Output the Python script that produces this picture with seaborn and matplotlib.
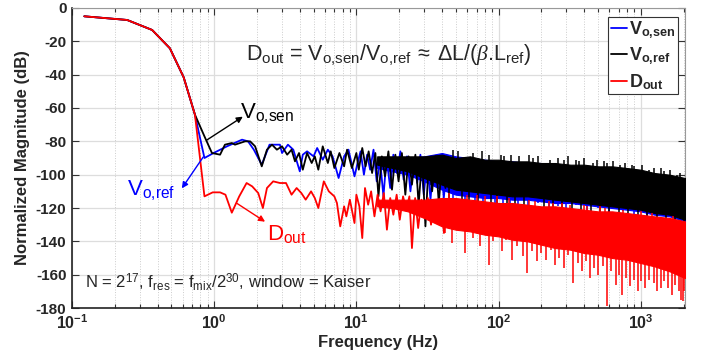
import numpy as np
import pandas as pd
import seaborn as sns
import matplotlib.pyplot as plt
from matplotlib.lines import Line2D

# ---- data ----
# low-frequency part, drawn as lines
blue_f = [0.122, 0.244, 0.366, 0.488, 0.61, 0.732, 0.854, 0.99, 1.23, 1.57, 1.73, 1.9, 2.16, 2.45, 2.9, 3.0, 3.3,
          3.6, 4.0, 4.2, 4.5, 5.0, 5.3, 5.8, 6.3, 6.8, 7.5, 8.2, 8.8, 9.7, 10.2, 10.7, 11.3, 11.9, 12.5, 13.2, 13.9,
          14.7, 15.5, 16.3, 17.3, 18.2, 19.3, 20.4, 21.5, 22.7, 24.0, 25.4, 26.8, 28.2, 29.8, 31.5, 33.2, 35.0,
          37.0, 39.0, 41.2, 43.5]
blue_db = [-5, -7.2, -13.2, -24.2, -41.6, -64, -90, -87, -83, -79, -80, -85, -94, -82, -82, -87, -82,
           -85, -98, -88, -86, -89, -84, -91, -85, -89, -102, -89, -85, -101, -93, -86, -100, -88, -97, -85, -104,
           -92, -113, -90, -108, -88, -99, -86, -103, -89, -110, -90, -105, -88, -112, -91, -115, -92,
           -106, -89, -114, -93]

black_f = [0.122, 0.244, 0.366, 0.488, 0.61, 0.732, 0.854, 0.964, 1.1, 1.19, 1.33, 1.40, 1.52, 1.65, 1.79, 1.94,
           2.16, 2.35, 2.55, 2.76, 3.0, 3.26, 3.5, 3.7, 3.95, 4.2, 4.5, 4.85, 5.1, 5.4, 5.8, 6.3, 6.6, 7.0, 7.6,
           8.2, 8.6, 9.3, 10.0, 10.4, 11.0, 11.6, 12.2, 12.9, 13.6, 14.3, 15.1, 15.9, 16.8, 17.8, 18.8, 19.8,
           20.9, 22.1, 23.3, 24.6, 26.0, 27.4, 29.0, 30.6, 32.3, 34.1, 36.0, 38.0, 40.1, 42.3, 44.6]
black_db = [-5, -7.2, -13.2, -24.2, -41.6, -64, -77, -87, -88, -82, -81, -82, -81, -80, -80, -83,
            -95, -85, -82, -85, -83, -88, -85, -92, -87, -97, -87, -93, -89, -97, -83, -93, -86, -96, -87,
            -95, -85, -96, -87, -97, -84, -95, -86, -99, -87, -113, -89, -101, -86, -109, -88, -104,
            -87, -112, -89, -106, -88, -118, -90, -131, -91, -110, -89, -117, -92, -108, -90]

red_f = [0.122, 0.244, 0.366, 0.488, 0.61, 0.732, 0.854, 0.976, 1.1, 1.2, 1.33, 1.5, 1.69, 1.85, 2.04, 2.2, 2.35,
         2.6, 2.9, 3.2, 3.5, 3.8, 4.1, 4.4, 4.8, 5.1, 5.4, 5.9, 6.4, 7.0, 7.3, 7.7, 8.2, 8.5, 9.0, 9.7, 10.0,
         10.5, 11.0, 11.5, 12.1, 12.7, 13.4, 14.1, 14.8, 15.6, 16.4, 17.3, 18.2, 19.2, 20.2, 21.3, 22.4, 23.6,
         24.6, 25.9, 27.2, 28.7, 30.2, 31.8, 33.5, 35.3, 37.2, 39.2, 41.3, 43.5]
red_db = [-5, -7.2, -13.2, -24.2, -41.6, -64, -113, -110.6, -110.6, -112, -122.8, -113, -105, -107, -111, -120, -108,
          -104, -105, -105, -112, -108, -111, -115, -110, -114, -120, -104, -110, -113, -117, -131, -119, -125, -115,
          -129, -112, -119, -138, -108, -118, -110, -125, -112, -122, -111, -133, -114, -124, -112, -127, -113,
          -121, -113, -144, -114, -132, -115, -126, -114, -130, -116, -128, -115, -135, -116]

# dense high-frequency part: envelope of each spectrum
band_f = [14, 18, 23, 30, 40, 50, 63, 80, 100, 125, 160, 200, 250, 320, 400, 500, 630, 800, 1000, 1250, 1600, 2048]
blue_hi = [-90, -90, -90, -89, -87, -89, -90, -91, -92, -92, -93, -93, -94, -95, -95, -96, -96, -97, -98, -100,
           -101, -103]
blue_lo = [-96, -98, -100, -104, -109, -112, -113, -114, -114, -115, -115, -116, -117, -117, -118, -119, -120, -121,
           -122, -124, -125, -128]
black_hi = [-89, -89, -89, -89, -88, -90, -89, -91, -91, -92, -92, -93, -93, -94, -94, -95, -95, -96, -97, -99,
            -100, -102]
black_lo = [-94, -96, -98, -102, -106, -109, -110, -111, -112, -113, -113, -114, -115, -116, -117, -118, -119, -120,
            -121, -123, -124, -127]
red_hi = [-115, -115, -115, -115, -114, -114, -115, -116, -117, -117, -118, -119, -119, -120, -121, -122, -122, -123,
          -124, -125, -126, -128]
red_lo = [-119, -120, -122, -126, -131, -133, -134, -136, -137, -139, -140, -142, -144, -145, -147, -148, -150, -151,
          -153, -155, -158, -162]

# individual peaks / notches sticking out of the envelopes
blue_spk_f = [48, 58, 68, 78, 95, 108, 120, 138, 160, 190, 225, 260, 300, 350, 420, 500, 600, 750, 900, 1100]
blue_spk_db = [-122, -117, -125, -119, -122, -117, -123, -118, -121, -117, -122, -119, -121, -118, -122, -120,
               -123, -122, -124, -125]
black_spk_f = [45, 48, 52, 55, 62, 66, 72, 76, 85, 88, 98, 104, 110, 115, 122, 130, 140, 150, 163, 175, 190, 210,
               230, 240, 260, 280, 290, 310, 330, 350, 370, 380, 400, 450, 460, 490, 520, 550, 580, 600, 640, 700,
               720, 780, 820, 870, 900, 950, 1020, 1100, 1150, 1230, 1300, 1380, 1450, 1500, 1600, 1750, 1800,
               1900, 2000]
black_spk_db = [-120, -85, -86, -126, -118, -87, -124, -86, -88, -121, -127, -88, -89, -119, -88, -123, -89, -120,
                -88, -90, -89, -121, -91, -125, -90, -122, -91, -89, -124, -91, -92, -121, -90, -125, -93, -91,
                -123, -92, -93, -126, -92, -124, -94, -93, -127, -94, -95, -125, -94, -128, -97, -96, -127, -96,
                -98, -129, -97, -128, -100, -99, -130]
red_spk_f = [42, 45, 47, 52, 58, 60, 66, 70, 74, 80, 85, 92, 98, 105, 112, 118, 125, 135, 148, 159, 165, 172, 180,
             185, 198, 215, 225, 232, 240, 250, 268, 280, 290, 310, 320, 335, 360, 385, 400, 410, 420, 440, 470, 500,
             520, 540, 560, 582, 620, 665, 700, 742, 750, 790, 840, 890, 950, 1000, 1010, 1080, 1150, 1200, 1230,
             1300, 1383, 1460, 1550, 1650, 1700, 1740, 1850, 1913, 1990, 2030]
red_spk_db = [-135, -111, -141, -133, -147, -112, -138, -112, -143, -113, -154, -140, -113, -146, -139, -114, -151,
              -143, -149, -159, -115, -146, -116, -152, -147, -151, -116, -145, -117, -154, -150, -117, -156, -148,
              -118, -165, -153, -158, -118, -152, -119, -162, -156, -160, -119, -155, -120, -179, -158, -166, -160,
              -172, -121, -162, -167, -163, -170, -122, -164, -168, -163, -123, -165, -170, -168, -164, -168, -172,
              -125, -166, -170, -175, -176, -170]

series = [r"V$_{\mathbf{o{,}sen}}$", r"V$_{\mathbf{o{,}ref}}$", r"D$_{\mathbf{out}}$"]
colors = ["#0000ff", "#000000", "#ff0000"]

# ---- style ----
sns.set_style("ticks")
plt.rcParams["font.family"] = ["Liberation Sans", "DejaVu Sans"]
plt.rcParams["mathtext.fontset"] = "custom"
plt.rcParams["mathtext.rm"] = "Liberation Sans"
plt.rcParams["mathtext.it"] = "Liberation Serif:italic"
plt.rcParams["mathtext.bf"] = "Liberation Sans:bold"
plt.rcParams["axes.unicode_minus"] = False

fig = plt.figure(figsize=(7.04, 3.62), dpi=100)
ax = fig.add_axes([0.1023, 0.149, 0.8707, 0.829])

line_sets = [(blue_f, blue_db), (black_f, black_db), (red_f, red_db)]
bands = [(blue_hi, blue_lo), (black_hi, black_lo), (red_hi, red_lo)]
spikes = [(blue_spk_f, blue_spk_db), (black_spk_f, black_spk_db), (red_spk_f, red_spk_db)]

lf_band = np.log10(band_f)
for i, col in enumerate(colors):
    hi, lo = np.array(bands[i][0]), np.array(bands[i][1])
    ax.fill_between(band_f, lo, hi, color=col, lw=0.8, zorder=3 + i)
    mid = np.interp(np.log10(spikes[i][0]), lf_band, (hi + lo) / 2)
    ax.vlines(spikes[i][0], mid, spikes[i][1], color=col, lw=1.1, zorder=3 + i)
    df = pd.DataFrame({"f": line_sets[i][0], "db": line_sets[i][1]})
    sns.lineplot(data=df, x="f", y="db", color=col, lw=1.3, sort=False, estimator=None, ax=ax, zorder=3 + i)

ax.set_xscale("log")
ax.set_xlim(0.1, 2048)
ax.set_ylim(-180, 0)

yt = list(range(-180, 1, 20))
ax.set_yticks(yt, labels=[str(v) for v in yt], fontsize=11, fontweight="bold")
xt_exp = [-1, 0, 1, 2, 3]
ax.set_xticks([10.0 ** e for e in xt_exp], labels=[r"$\mathbf{10^{%d}}$" % e for e in xt_exp], fontsize=11.5)

ax.set_axisbelow(True)
ax.grid(True, which="major", color="#dddddd", lw=0.9)
ax.grid(True, which="minor", axis="x", color="#cccccc", lw=0.7, ls=":")
ax.tick_params(which="both", direction="in", top=True, right=True, color="#333333", width=0.8, pad=4)
ax.tick_params(which="major", length=5)
ax.tick_params(which="minor", length=3)
for s in ["left", "bottom"]:
    ax.spines[s].set_color("#222222")
    ax.spines[s].set_linewidth(1.2)
for s in ["top", "right"]:
    ax.spines[s].set_color("#999999")
    ax.spines[s].set_linewidth(0.8)

ax.set_xlabel("Frequency (Hz)", fontsize=12, fontweight="bold", labelpad=2)
ax.set_ylabel("Normalized Magnitude (dB)", fontsize=12, fontweight="bold", labelpad=4)

# ---- annotations ----
ax.text(1.67, -31.2, r"D$_{\mathrm{out}}$ = V$_{\mathrm{o{,}sen}}$/V$_{\mathrm{o{,}ref}}$$\;\approx\;$"
        r"$\Delta$L/($\beta$.L$_{\mathrm{ref}}$)", fontsize=15.5, ha="left", va="baseline", zorder=10)
ax.text(0.1233, -168.2, r"N = 2$^{17}$, f$_{\mathrm{res}}$ = f$_{\mathrm{mix}}$/2$^{30}$, window = Kaiser",
        fontsize=12, ha="left", va="baseline", zorder=10)

ax.annotate("", xy=(1.59, -65.2), xytext=(0.888, -79.2),
            arrowprops=dict(arrowstyle="-|>", color="black", lw=1.0, mutation_scale=9, shrinkA=0, shrinkB=0), zorder=10)
ax.text(1.52, -66, r"V$_{\mathrm{o{,}sen}}$", fontsize=16, color="black", ha="left", va="baseline", zorder=10)

ax.annotate("", xy=(0.592, -108.2), xytext=(0.837, -89.4),
            arrowprops=dict(arrowstyle="-|>", color="#0000ff", lw=1.0, mutation_scale=9, shrinkA=0, shrinkB=0), zorder=10)
ax.text(0.244, -112.2, r"V$_{\mathrm{o{,}ref}}$", fontsize=16, color="#0000ff", ha="left", va="baseline", zorder=10)

ax.annotate("", xy=(2.28, -128.2), xytext=(1.445, -117.2),
            arrowprops=dict(arrowstyle="-|>", color="#ff0000", lw=1.0, mutation_scale=9, shrinkA=0, shrinkB=0), zorder=10)
ax.text(2.36, -139.2, r"D$_{\mathrm{out}}$", fontsize=16, color="#ff0000", ha="left", va="baseline", zorder=10)

# ---- legend ----
handles = [Line2D([], [], color=c, lw=1.3) for c in colors]
leg = ax.legend(handles, series, loc="upper right", bbox_to_anchor=(0.9886, 0.97), borderaxespad=0,
                prop={"weight": "bold", "size": 13}, handlelength=0.9, handletextpad=0.1, labelspacing=0.25,
                borderpad=0.15, fancybox=False, framealpha=1, edgecolor="#333333")
leg.get_frame().set_linewidth(0.8)
leg.set_zorder(20)

fig.savefig("out.png", dpi=100)
